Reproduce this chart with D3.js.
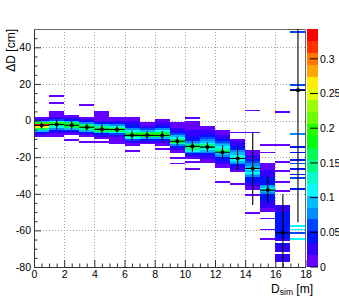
<!DOCTYPE html>
<html>
<head>
<meta charset="utf-8">
<script src="https://cdn.jsdelivr.net/npm/d3@7"></script>
<style>
  body { margin: 0; background: #fff; }
  text { font-family: "Liberation Sans", Arial, sans-serif; fill: #000; }
</style>
</head>
<body>
<div id="chart"></div>
<script>
/********************************************************/
// data
// x bins of 1 m (lower edges), cells as runs [lo cm, hi cm, value]
const distBins = [0, 1, 2, 3, 4, 5, 6, 7, 8, 9, 10, 11, 12, 13, 14, 15, 16, 17];
const cells = [
  [[1,2,.01],[0,1,.03],[-1,0,.1],[-2,-1,.2],[-3,-2,.33],[-4,-3,.26],[-5,-4,.17],[-6,-5,.1],[-7,-6,.05],[-8,-7,.02],[-9,-8,.01]],
  [[13,14,.01],[9,10,.01],[2,5,.01],[1,2,.03],[0,1,.06],[-1,0,.12],[-2,-1,.2],[-3,-2,.17],[-4,-3,.12],[-5,-4,.07],[-6,-5,.04],[-7,-6,.02],[-9,-7,.01]],
  [[2,3,.01],[1,2,.02],[0,1,.04],[-1,0,.09],[-2,-1,.16],[-3,-2,.2],[-4,-3,.16],[-5,-4,.1],[-6,-5,.05],[-7,-6,.02],[-8,-7,.01],[-11,-10,.01]],
  [[8,9,.01],[1,2,.01],[0,1,.02],[-1,0,.04],[-2,-1,.08],[-3,-2,.14],[-4,-3,.19],[-5,-4,.15],[-6,-5,.1],[-7,-6,.05],[-8,-7,.02],[-9,-8,.01],[-12,-11,.01]],
  [[0,5,.01],[-1,0,.02],[-2,-1,.05],[-3,-2,.1],[-4,-3,.14],[-6,-4,.17],[-7,-6,.1],[-8,-7,.04],[-9,-8,.02],[-10,-9,.01],[-12,-11,.01]],
  [[0,2,.01],[-1,0,.02],[-2,-1,.04],[-3,-2,.08],[-4,-3,.13],[-5,-4,.18],[-6,-5,.17],[-7,-6,.11],[-8,-7,.06],[-9,-8,.03],[-13,-9,.01]],
  [[0,2,.01],[-1,0,.02],[-2,-1,.03],[-3,-2,.04],[-4,-3,.05],[-5,-4,.07],[-6,-5,.11],[-7,-6,.15],[-8,-7,.18],[-9,-8,.17],[-10,-9,.11],[-11,-10,.06],[-12,-11,.03],[-14,-12,.01],[-17,-16,.01]],
  [[-3,-1,.01],[-4,-3,.03],[-5,-4,.06],[-6,-5,.1],[-7,-6,.16],[-8,-7,.2],[-9,-8,.18],[-10,-9,.1],[-11,-10,.05],[-12,-11,.02],[-13,-12,.01]],
  [[-1,1,.01],[-2,-1,.02],[-3,-2,.03],[-4,-3,.05],[-5,-4,.08],[-6,-5,.12],[-7,-6,.16],[-8,-7,.18],[-9,-8,.16],[-10,-9,.1],[-11,-10,.05],[-12,-11,.02],[-14,-12,.01],[-16,-15,.01]],
  [[-4,-1,.01],[-5,-4,.02],[-6,-5,.03],[-7,-6,.04],[-8,-7,.06],[-9,-8,.09],[-10,-9,.12],[-11,-10,.16],[-12,-11,.18],[-13,-12,.13],[-14,-13,.08],[-15,-14,.05],[-16,-15,.03],[-18,-16,.01],[-21,-20,.01],[-24,-23,.01]],
  [[1,2,.01],[-5,0,.01],[-7,-5,.02],[-9,-7,.03],[-10,-9,.04],[-11,-10,.05],[-12,-11,.07],[-13,-12,.1],[-14,-13,.14],[-15,-14,.17],[-16,-15,.15],[-17,-16,.11],[-18,-17,.07],[-19,-18,.04],[-20,-19,.02],[-21,-20,.01],[-23,-22,.01],[-27,-26,.01]],
  [[-5,-3,.01],[-7,-5,.02],[-8,-7,.03],[-9,-8,.04],[-10,-9,.06],[-11,-10,.08],[-12,-11,.1],[-13,-12,.12],[-14,-13,.14],[-15,-14,.16],[-16,-15,.13],[-17,-16,.1],[-18,-17,.07],[-19,-18,.05],[-20,-19,.03],[-21,-20,.02],[-23,-21,.01]],
  [[-8,-5,.01],[-9,-8,.02],[-10,-9,.03],[-11,-10,.04],[-12,-11,.06],[-13,-12,.08],[-14,-13,.1],[-15,-14,.12],[-16,-15,.13],[-17,-16,.16],[-18,-17,.13],[-19,-18,.1],[-20,-19,.07],[-21,-20,.05],[-22,-21,.04],[-23,-22,.03],[-24,-23,.02],[-26,-24,.01],[-34,-33,.01]],
  [[-7,-6,.01],[-11,-10,.01],[-13,-11,.02],[-14,-13,.03],[-15,-14,.04],[-16,-15,.05],[-17,-16,.07],[-18,-17,.09],[-19,-18,.1],[-20,-19,.12],[-21,-20,.15],[-22,-21,.12],[-23,-22,.1],[-24,-23,.07],[-25,-24,.05],[-26,-25,.03],[-27,-26,.02],[-28,-27,.01],[-35,-34,.01]],
  [[5,6,.01],[-7,-6,.01],[-19,-16,.01],[-20,-19,.02],[-21,-20,.03],[-22,-21,.05],[-23,-22,.06],[-24,-23,.07],[-25,-24,.08],[-26,-25,.1],[-27,-26,.11],[-28,-27,.1],[-29,-28,.11],[-30,-29,.09],[-31,-30,.07],[-32,-31,.05],[-34,-32,.04],[-36,-34,.02],[-38,-36,.01],[-41,-40,.01],[-51,-50,.01]],
  [[-14,-13,.01],[-18,-17,.01],[-27,-23,.01],[-29,-27,.02],[-31,-29,.03],[-33,-31,.04],[-35,-33,.05],[-36,-35,.07],[-37,-36,.09],[-38,-37,.11],[-39,-38,.09],[-40,-39,.07],[-42,-40,.05],[-44,-42,.04],[-46,-44,.03],[-48,-46,.02],[-50,-48,.01],[-54,-53,.01],[-60,-59,.01],[-65,-64,.01]],
  [[4,5,.01],[-14,-13,.01],[-23,-22,.01],[-28,-27,.01],[-34,-33,.01],[-39,-38,.01],[-48,-46,.02],[-50,-48,.03],[-56,-50,.04],[-62,-56,.05],[-64,-62,.04],[-66,-64,.03],[-68,-67,.04],[-72,-68,.03],[-77,-73,.02]],
  [[48,49,.06],[19,20,.06],[16,17,.05],[-8,-7,.07],[-15,-14,.05],[-18,-17,.05],[-22,-21,.05],[-24,-23,.06],[-27,-26,.05],[-30,-29,.05],[-32,-31,.06],[-38,-37,.05],[-58,-57,.11],[-60,-59,.11],[-62,-61,.06],[-65,-64,.11]]
];
// profile: mean and error per x bin (cm)
const profMean = [-2.7, -2.2, -2.6, -3.7, -4.8, -4.9, -8.1, -8.1, -8.2, -11.3, -14.1, -14.5, -17.3, -20.7, -26.2, -38, -61.3, 16.5];
const profErr = [1.6, 2.7, 2.3, 1.9, 2.6, 1.8, 2.7, 2.3, 2.5, 2.4, 3, 2.5, 3.6, 6.1, 20, 7.5, 21, 72];
const xTicks = [0, 2, 4, 6, 8, 10, 12, 14, 16, 18];
const yTicks = [-80, -60, -40, -20, 0, 20, 40];
const zTicks = [0, 0.05, 0.1, 0.15, 0.2, 0.25, 0.3];
const zMax = 0.343;
/********************************************************/
const svgWidth = 339;
const svgHeight = 297;
const frame = { left: 34, right: 305.5, top: 29, bottom: 267 };

const svg = d3.select("#chart").append("svg").attr("width", svgWidth).attr("height", svgHeight);

const x = d3.scaleLinear().domain([0, 18]).range([frame.left, frame.right]);
const y = d3.scaleLinear().domain([-80, 50]).range([frame.bottom, frame.top]);
const z = d3.scaleLinear().domain([0, zMax]).range([frame.bottom, frame.top]);

// ROOT style rainbow palette, 20 contour levels
const nLevels = 20;
function levelColor(lev) {
  const idx = Math.floor((lev + 0.99) * 50 / nLevels);
  const hue = 280 - (idx + 1) * 5.6;
  return d3.hsl(hue, 1, 0.5).formatHex();
}
function zColor(v) {
  const lev = Math.min(nLevels - 1, Math.floor(v / zMax * nLevels));
  return levelColor(lev);
}

svg.append("clipPath").attr("id", "frameClip")
  .append("rect")
  .attr("x", frame.left).attr("y", frame.top)
  .attr("width", frame.right - frame.left).attr("height", frame.bottom - frame.top);

// grid
const grid = svg.append("g").attr("stroke", "#a0a0a0").attr("stroke-dasharray", "1,2").attr("stroke-width", 1);
grid.selectAll(".gx").data(xTicks.filter(d => d > 0 && d < 18)).enter().append("line")
  .attr("x1", d => Math.round(x(d)) + 0.5).attr("x2", d => Math.round(x(d)) + 0.5)
  .attr("y1", frame.top).attr("y2", frame.bottom);
grid.selectAll(".gy").data(yTicks.filter(d => d > -80)).enter().append("line")
  .attr("y1", d => Math.round(y(d)) + 0.5).attr("y2", d => Math.round(y(d)) + 0.5)
  .attr("x1", frame.left).attr("x2", frame.right);

// histogram cells
const flat = [];
cells.forEach((col, i) => col.forEach(c => flat.push({ bin: distBins[i], lo: c[0], hi: c[1], v: c[2] })));
svg.append("g").attr("shape-rendering", "crispEdges")
  .selectAll("rect").data(flat).enter().append("rect")
  .attr("x", d => x(d.bin))
  .attr("width", d => x(d.bin + 1) - x(d.bin))
  .attr("y", d => y(d.hi))
  .attr("height", d => y(d.lo) - y(d.hi))
  .attr("fill", d => zColor(d.v));

// axes
const xAxis = d3.axisBottom(x).tickValues(xTicks).tickSizeInner(-7).tickSizeOuter(0).tickPadding(4).tickFormat(d => d);
const xMinor = d3.axisBottom(x).tickValues(d3.range(0.5, 18, 0.5).filter(d => d % 2 !== 0)).tickSize(-3.5).tickFormat("");
const yAxis = d3.axisLeft(y).tickValues(yTicks).tickSizeInner(-7).tickSizeOuter(0).tickPadding(3).tickFormat(d => String(d).replace("−", "-"));
const yMinor = d3.axisLeft(y).tickValues(d3.range(-75, 50, 5).filter(d => d % 20 !== 0)).tickSize(-3.5).tickFormat("");

svg.append("g").attr("transform", `translate(0,${frame.bottom})`).call(xMinor).call(g => g.select(".domain").remove());
svg.append("g").attr("transform", `translate(${frame.left},0)`).call(yMinor).call(g => g.select(".domain").remove());
const gx = svg.append("g").attr("transform", `translate(0,${frame.bottom})`).call(xAxis);
const gy = svg.append("g").attr("transform", `translate(${frame.left},0)`).call(yAxis);
svg.selectAll(".tick line").attr("stroke", "#333");
svg.selectAll(".domain").attr("stroke", "#333");
gx.selectAll("text").attr("font-size", "10.5px").attr("font-family", "Liberation Sans, Arial, sans-serif");
gy.selectAll("text").attr("font-size", "10.5px").attr("font-family", "Liberation Sans, Arial, sans-serif");

// top and right frame lines
svg.append("path")
  .attr("d", `M${frame.left},${frame.top + 0.5}H${frame.right}V${frame.bottom}`)
  .attr("fill", "none").attr("stroke", "#666").attr("stroke-width", 1);

// profile points
const prof = svg.append("g").attr("clip-path", "url(#frameClip)").attr("stroke", "#000").attr("stroke-width", 1.1);
profMean.forEach((m, i) => {
  const cx = x(distBins[i] + 0.5);
  prof.append("line").attr("x1", cx).attr("x2", cx).attr("y1", y(m + profErr[i])).attr("y2", y(m - profErr[i]));
  prof.append("line").attr("x1", x(distBins[i])).attr("x2", x(distBins[i] + 1)).attr("y1", y(m)).attr("y2", y(m));
  prof.append("circle").attr("cx", cx).attr("cy", y(m)).attr("r", 2).attr("fill", "#000").attr("stroke", "none");
});

// colour bar
const bar = { left: 307, right: 318 };
const levels = d3.range(nLevels);
svg.append("g").attr("shape-rendering", "crispEdges")
  .selectAll("rect").data(levels).enter().append("rect")
  .attr("x", bar.left).attr("width", bar.right - bar.left)
  .attr("y", d => z((d + 1) * zMax / nLevels))
  .attr("height", d => z(d * zMax / nLevels) - z((d + 1) * zMax / nLevels))
  .attr("fill", d => levelColor(d));
svg.append("g").selectAll("line").data(zTicks).enter().append("line")
  .attr("x1", bar.right).attr("x2", bar.right - 8)
  .attr("y1", d => z(d)).attr("y2", d => z(d))
  .attr("stroke", "#000").attr("stroke-width", 1);
svg.append("g").selectAll("text").data(zTicks).enter().append("text")
  .attr("x", 320).attr("y", d => z(d)).attr("dy", "0.36em")
  .attr("font-size", "10.5px")
  .text(d => String(d));

// titles
svg.append("text")
  .attr("transform", `translate(15,${frame.top}) rotate(-90)`)
  .attr("text-anchor", "end").attr("font-size", "12px")
  .text("ΔD [cm]");
const xt = svg.append("text").attr("x", 313).attr("y", 292.5).attr("text-anchor", "end").attr("font-size", "12px");
xt.append("tspan").text("D");
xt.append("tspan").attr("font-size", "8.5px").attr("dy", 2.5).text("sim");
xt.append("tspan").attr("dy", -2.5).text(" [m]");
</script>
</body>
</html>
